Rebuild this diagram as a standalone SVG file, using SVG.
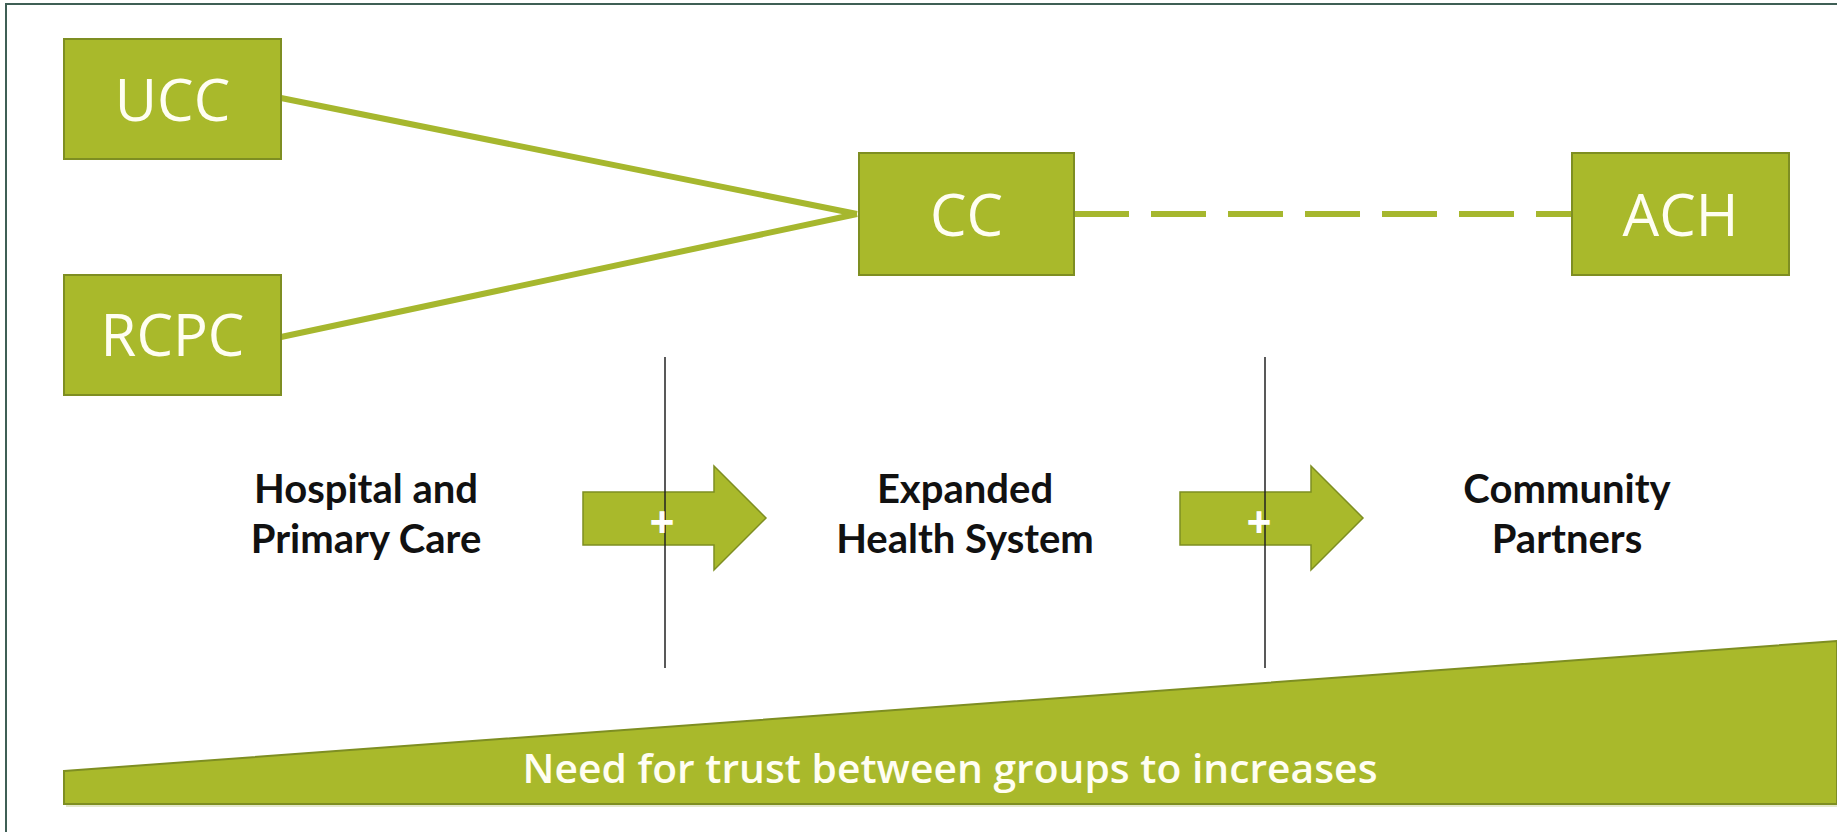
<svg xmlns="http://www.w3.org/2000/svg" width="1837" height="832" viewBox="0 0 1837 832">
<style>
.box{fill:#a9b92b;stroke:#7e8e22;stroke-width:2}
.lbl{font-family:"Open Sans","Liberation Sans",sans-serif;font-size:58px;fill:#fffef2;text-anchor:middle}
.mid{font-family:Lato,"Open Sans","Liberation Sans",sans-serif;font-weight:700;font-size:40px;fill:#111111;text-anchor:middle}
.conn{stroke:#a6b72e;stroke-width:6;fill:none}
.arrow{fill:#a9b92b;stroke:#7e8e22;stroke-width:1.5}
.plus{font-family:"Open Sans","Liberation Sans",sans-serif;font-weight:700;font-size:44px;fill:#ffffff;text-anchor:middle}
.vline{stroke:#222222;stroke-width:1.5}
</style>
<rect x="0" y="0" width="1837" height="832" fill="#ffffff"/>
<path d="M6,832 V4 H1837" fill="none" stroke="#3f5f55" stroke-width="2"/>

<g id="connectors">
<line class="conn" x1="281" y1="98" x2="857" y2="214"/>
<line class="conn" x1="281" y1="337" x2="857" y2="214"/>
<line class="conn" x1="1074" y1="214" x2="1572" y2="214" stroke-dasharray="55 22"/>
</g>

<g id="ucc">
<rect class="box" x="64" y="39" width="217" height="120"/>
<text class="lbl" x="172.5" y="121">UCC</text>
</g>
<g id="rcpc">
<rect class="box" x="64" y="275" width="217" height="120"/>
<text class="lbl" x="172.5" y="356">RCPC</text>
</g>
<g id="cc">
<rect class="box" x="859" y="153" width="215" height="122"/>
<text class="lbl" x="966.5" y="236">CC</text>
</g>
<g id="ach">
<rect class="box" x="1572" y="153" width="217" height="122"/>
<text class="lbl" x="1680.5" y="236">ACH</text>
</g>

<g id="stage-hospital">
<text class="mid" x="366" y="503">Hospital and</text>
<text class="mid" x="366" y="553">Primary Care</text>
</g>
<g id="stage-expanded">
<text class="mid" x="965" y="503">Expanded</text>
<text class="mid" x="965" y="553">Health System</text>
</g>
<g id="stage-community">
<text class="mid" x="1567" y="503">Community</text>
<text class="mid" x="1567" y="553">Partners</text>
</g>

<g id="arrow1">
<path class="arrow" d="M583,492 H714 V466 L766,518 L714,570 V545 H583 Z"/>
<line class="vline" x1="665" y1="357" x2="665" y2="668"/>
<text class="plus" x="662" y="538">+</text>
</g>
<g id="arrow2">
<path class="arrow" d="M1180,492 H1311 V466 L1363,518 L1311,570 V545 H1180 Z"/>
<line class="vline" x1="1265" y1="357" x2="1265" y2="668"/>
<text class="plus" x="1259" y="538">+</text>
</g>

<g id="trust-wedge">
<polygon points="66,774 1837,644 1837,807 66,807" fill="#c9d29a" opacity="0.5"/>
<polygon points="64,771 1837,641 1837,804 64,804" fill="#a9b92b" stroke="#7e8e22" stroke-width="2"/>
<text x="950" y="783" font-family="'Open Sans','Liberation Sans',sans-serif" font-weight="600" font-size="40" fill="#fffef2" text-anchor="middle" textLength="855" lengthAdjust="spacingAndGlyphs">Need for trust between groups to increases</text>
</g>
</svg>
